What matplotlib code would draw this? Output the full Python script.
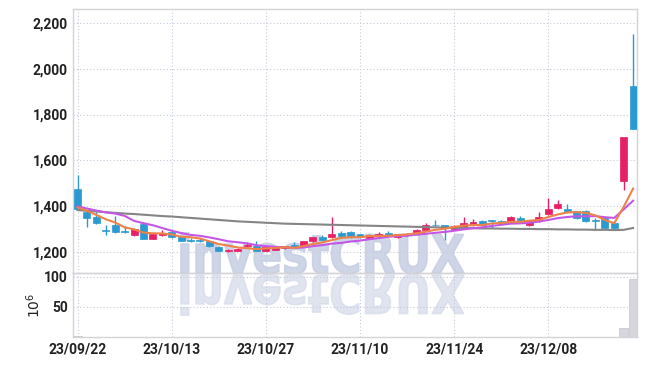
import matplotlib
matplotlib.use('Agg')
import matplotlib.pyplot as plt
from matplotlib.patches import Rectangle, PathPatch
from matplotlib.textpath import TextPath
from matplotlib.font_manager import FontProperties
from matplotlib.transforms import Affine2D, IdentityTransform

tick_idx = [0, 10, 20, 30, 40, 50]
tick_labels = ['23/09/22', '23/10/13', '23/10/27', '23/11/10', '23/11/24', '23/12/08']

opens = [1474, 1374, 1353, 1298, 1320, 1294, 1275, 1322, 1258, 1275,
         1288, 1264, 1252, 1252, 1248, 1223, 1204, 1205, 1228, 1225,
         1206, 1209, 1216, 1230, 1225, 1247, 1267, 1264, 1283, 1286,
         1277, 1260, 1268, 1283, 1264, 1274, 1277, 1297, 1319, 1317,
         1300, 1306, 1317, 1335, 1338, 1336, 1329, 1347, 1317, 1336,
         1365, 1394, 1390, 1377, 1377, 1338, 1347, 1326, 1511, 1926]
highs = [1535, 1378, 1373, 1317, 1358, 1312, 1306, 1325, 1279, 1296,
         1292, 1266, 1262, 1262, 1250, 1225, 1214, 1216, 1243, 1249,
         1222, 1222, 1228, 1243, 1249, 1266, 1274, 1354, 1290, 1290,
         1281, 1277, 1288, 1290, 1281, 1282, 1300, 1329, 1339, 1320,
         1318, 1351, 1343, 1340, 1342, 1339, 1356, 1358, 1342, 1373,
         1438, 1427, 1409, 1380, 1383, 1348, 1350, 1329, 1701, 2152]
lows = [1385, 1309, 1322, 1274, 1285, 1284, 1272, 1256, 1256, 1268,
        1262, 1247, 1245, 1245, 1223, 1203, 1200, 1203, 1222, 1204,
        1204, 1207, 1214, 1218, 1222, 1245, 1250, 1262, 1266, 1260,
        1260, 1256, 1262, 1272, 1260, 1272, 1275, 1295, 1315, 1253,
        1296, 1303, 1315, 1313, 1303, 1322, 1327, 1329, 1315, 1333,
        1362, 1390, 1370, 1345, 1333, 1300, 1304, 1300, 1471, 1735]
closes = [1390, 1348, 1326, 1293, 1288, 1286, 1300, 1258, 1277, 1285,
          1266, 1249, 1249, 1248, 1225, 1206, 1210, 1213, 1232, 1206,
          1220, 1220, 1225, 1220, 1247, 1264, 1253, 1278, 1268, 1264,
          1264, 1274, 1281, 1274, 1278, 1278, 1297, 1317, 1317, 1303,
          1314, 1326, 1332, 1317, 1336, 1326, 1351, 1332, 1340, 1351,
          1390, 1409, 1373, 1348, 1336, 1336, 1307, 1304, 1701, 1735]
volumes = [1.5, 0.6, 0.5, 0.4, 0.4, 0.3, 0.3, 0.4, 0.3, 0.3,
           0.3, 0.3, 0.2, 0.2, 0.3, 0.3, 0.2, 0.2, 0.3, 0.3,
           0.2, 0.2, 0.2, 0.2, 0.3, 0.3, 0.3, 0.5, 0.3, 0.3,
           0.2, 0.2, 0.2, 0.2, 0.2, 0.2, 0.3, 0.4, 0.3, 0.3,
           0.2, 0.3, 0.3, 0.2, 0.2, 0.2, 0.3, 0.3, 0.3, 0.3,
           0.6, 0.5, 0.4, 0.3, 0.3, 0.3, 0.3, 0.3, 15.7, 97.0]
ma5 = [1395, 1380, 1362, 1343, 1329, 1308, 1299, 1285, 1282, 1281,
       1277, 1267, 1265, 1259, 1247, 1235, 1228, 1220, 1217, 1213,
       1216, 1218, 1221, 1218, 1226, 1235, 1242, 1252, 1262, 1265,
       1265, 1270, 1270, 1271, 1274, 1277, 1282, 1289, 1297, 1302,
       1310, 1315, 1318, 1318, 1325, 1327, 1332, 1332, 1337, 1340,
       1353, 1364, 1373, 1374, 1371, 1360, 1340, 1326, 1397, 1477]
ma10 = [1399, 1390, 1381, 1373, 1368, 1358, 1336, 1326, 1317, 1305,
        1293, 1283, 1275, 1271, 1264, 1256, 1247, 1243, 1238, 1230,
        1226, 1223, 1221, 1218, 1220, 1226, 1230, 1237, 1240, 1246,
        1250, 1256, 1261, 1267, 1270, 1271, 1276, 1280, 1284, 1288,
        1293, 1299, 1304, 1308, 1314, 1319, 1324, 1325, 1328, 1333,
        1340, 1348, 1353, 1356, 1356, 1357, 1352, 1349, 1386, 1424]
ma60 = [1383, 1380, 1377, 1374, 1371, 1368, 1366, 1363, 1360, 1357,
        1355, 1352, 1349, 1346, 1343, 1340, 1337, 1334, 1332, 1330,
        1328, 1326, 1324, 1323, 1322, 1321, 1320, 1319, 1318, 1317,
        1316, 1315, 1314, 1313, 1312, 1311, 1310, 1309, 1308, 1307,
        1306, 1305, 1304, 1303, 1303, 1302, 1302, 1301, 1301, 1300,
        1300, 1299, 1299, 1298, 1298, 1297, 1297, 1296, 1297, 1305]

UP = '#e61f66'
DOWN = '#2a9ad0'
GRID = '#c3cadb'
SPINE = '#d4d4d8'
TXT = '#222222'

plt.rcParams['font.family'] = ['Liberation Sans Narrow', 'Roboto', 'DejaVu Sans']
plt.rcParams['mathtext.fontset'] = 'dejavusans'

fig = plt.figure(figsize=(6.47, 3.66), dpi=100)
fig.patch.set_facecolor('white')
ax = fig.add_axes([0.1133, 0.2549, 0.8717, 0.7197])
axv = fig.add_axes([0.1133, 0.0792, 0.8717, 0.1757], sharex=ax)
for a in (ax, axv):
    a.set_facecolor('none')
    for s in a.spines.values():
        s.set_color(SPINE)
        s.set_linewidth(1.0)
    a.grid(True, color=GRID, linestyle=(0, (1, 2)), linewidth=0.8)
    a.set_axisbelow(True)
    a.tick_params(length=0, labelsize=10, colors=TXT, pad=4)

n = len(closes)
xs = list(range(n))
bw = 0.74
for i in xs:
    o, h, l, c = opens[i], highs[i], lows[i], closes[i]
    col = UP if c >= o else DOWN
    ax.vlines(i, l, h, color=col, linewidth=1.0, zorder=3)
    lo, hi = min(o, c), max(o, c)
    if hi - lo < 4:
        lo, hi = (lo + hi) / 2 - 2, (lo + hi) / 2 + 2
    ax.add_patch(Rectangle((i - bw / 2, lo), bw, hi - lo, facecolor=col,
                           edgecolor=col, linewidth=0.5, zorder=4))

ax.plot(xs, ma60, color='#858585', linewidth=1.5, zorder=5)
ax.plot(xs, ma10, color='#c456e6', linewidth=1.5, zorder=5)
ax.plot(xs, ma5, color='#ee8248', linewidth=1.5, zorder=6)

ax.set_xlim(-0.45, n - 0.55)
ax.set_ylim(1110, 2259)
ax.set_yticks([1200, 1400, 1600, 1800, 2000, 2200])
ax.set_yticklabels(['1,200', '1,400', '1,600', '1,800', '2,000', '2,200'], fontweight='bold')
ax.set_xticks(tick_idx)
ax.tick_params(axis='x', labelbottom=False)

axv.bar(xs, volumes, width=0.92, color='#d6d6dc', edgecolor='#c4c4cc', linewidth=0.5, zorder=3)
axv.set_ylim(0, 107)
axv.set_yticks([50, 100])
axv.set_yticklabels(['50', '100'], fontweight='bold')
axv.set_xticks(tick_idx)
axv.set_xticklabels(tick_labels, fontweight='bold')
axv.set_ylabel('$10^6$', fontsize=10, color=TXT, labelpad=1)

# watermark with reflection
fp = FontProperties(family='DejaVu Sans', weight='bold')
tp = TextPath((0, 0), 'investCRUX', size=60, prop=fp)
ext = tp.get_extents()
capx = TextPath((0, 0), 'C', size=60, prop=fp).get_extents()
W = 283.0
sx = W / ext.width
sy = 40.0 / capx.height
x0 = 181.0
base = 366 - 273.0
tr_main = Affine2D().translate(-ext.x0, 0).scale(sx, sy).translate(x0, base)
tr_refl = Affine2D().translate(-ext.x0, 0).scale(sx, -sy).translate(x0, base - 2)
p1 = PathPatch(tr_main.transform_path(tp), facecolor='#c6cee3', edgecolor='#c6cee3',
               linewidth=1.2, alpha=0.85, transform=IdentityTransform(), zorder=1, clip_on=False)
p2 = PathPatch(tr_refl.transform_path(tp), facecolor='#d6dcea', edgecolor='#d6dcea',
               linewidth=1.2, alpha=0.75, transform=IdentityTransform(), zorder=1, clip_on=False)
ax.add_artist(p1)
ax.add_artist(p2)

fig.savefig('out.png', dpi=100)
